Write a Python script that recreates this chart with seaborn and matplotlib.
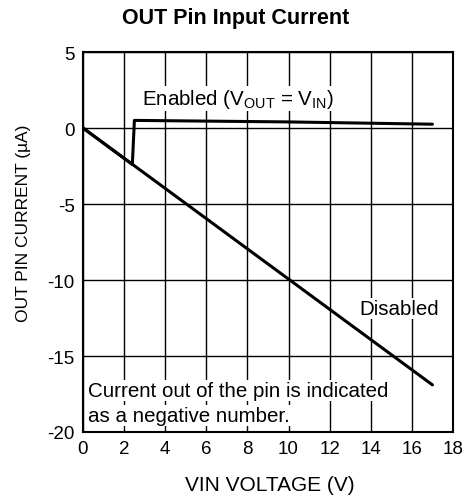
import pandas as pd
import matplotlib
matplotlib.use("Agg")
import matplotlib.pyplot as plt
import seaborn as sns

# DATA
disabled_vin = [0, 17]
disabled_current = [0, -16.9]

enabled_vin = [0, 2.4, 2.5, 10, 17]
enabled_current = [0, -2.4, 0.5, 0.4, 0.25]

x_ticks = [0, 2, 4, 6, 8, 10, 12, 14, 16, 18]
y_ticks = [-20, -15, -10, -5, 0, 5]

# CONFIG
sns.set_theme(style="white")
plt.rcParams["font.family"] = ["Liberation Sans", "DejaVu Sans"]
plt.rcParams["axes.unicode_minus"] = False
plt.rcParams["text.color"] = "black"
plt.rcParams["mathtext.fontset"] = "custom"
plt.rcParams["mathtext.rm"] = "Liberation Sans"

df = pd.concat([
    pd.DataFrame({"vin": disabled_vin, "current": disabled_current, "mode": "Disabled"}),
    pd.DataFrame({"vin": enabled_vin, "current": enabled_current, "mode": "Enabled"}),
])

fig = plt.figure(figsize=(4.68, 5.02), dpi=100)
ax = fig.add_axes([83 / 468, 1 - 433 / 502, 370 / 468, 380 / 502])

sns.lineplot(data=df, x="vin", y="current", units="mode", estimator=None,
             sort=False, color="black", lw=2.2, ax=ax, legend=False)

ax.set_xlim(0, 18)
ax.set_ylim(-20, 5)
ax.set_xticks(x_ticks)
ax.set_yticks(y_ticks)
ax.grid(True, color="black", lw=1)
ax.set_axisbelow(True)
for s in ax.spines.values():
    s.set_color("black")
    s.set_linewidth(1.5)
ax.tick_params(length=0, labelsize=13.5, colors="black", pad=6)

ax.set_xlabel("VIN VOLTAGE (V)", fontsize=15, color="black", va="top")
ax.xaxis.set_label_coords(0.504, -0.112)
ax.set_ylabel("OUT PIN CURRENT (\u00b5A)", fontsize=12.5, color="black")
ax.yaxis.set_label_coords(-0.14, 0.551)
fig.text(0.504, 1 - 18.5 / 502, "OUT Pin Input Current", fontsize=15.5,
         fontweight="bold", color="black", ha="center", va="center")

box = dict(facecolor="white", edgecolor="none", pad=1)
ax.text(2.87, 1.58, r"Enabled (V$_{\mathrm{OUT}}$ = V$_{\mathrm{IN}}$)",
        fontsize=14.8, va="baseline", ha="left", bbox=box)
ax.text(15.37, -12.24, "Disabled", fontsize=14.8, va="baseline", ha="center", bbox=box)
ax.text(0.24, -17.63, "Current out of the pin is indicated", fontsize=14.8,
        va="baseline", ha="left", bbox=box)
ax.text(0.24, -19.28, "as a negative number.", fontsize=14.8,
        va="baseline", ha="left", bbox=box)

fig.savefig("out.png", dpi=100)
